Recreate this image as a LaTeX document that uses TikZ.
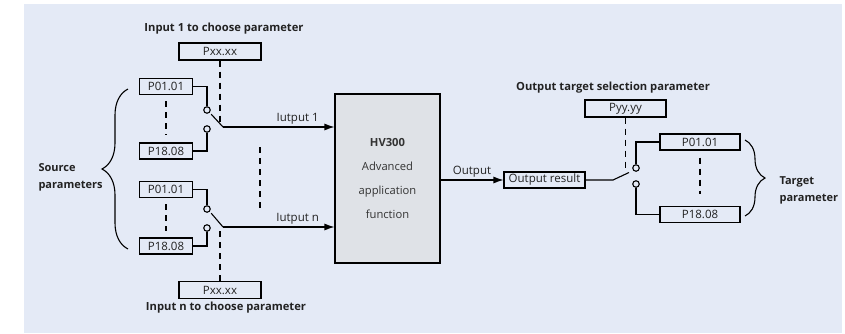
\documentclass[tikz,border=0pt]{standalone}
\usepackage{fontspec}
\setmainfont{Open Sans}
\usetikzlibrary{arrows.meta,decorations.pathreplacing,calc}
\definecolor{bgblue}{HTML}{E4EAF6}
\definecolor{boxgray}{HTML}{DFE2E7}
\definecolor{inktext}{HTML}{222222}

\tikzset{
  wire/.style={line width=1.1pt,draw=black},
  dashwire/.style={line width=1.2pt,dash pattern=on 6pt off 5pt},
  parbox/.style={draw,line width=1.1pt,minimum width=53,minimum height=16,inner sep=0pt,
    font=\fontsize{11.5}{12}\selectfont,text=inktext},
  selbox/.style={parbox,minimum width=82,minimum height=17},
  tgtbox/.style={parbox,minimum width=80},
  contact/.style={circle,draw,line width=1.1pt,fill=bgblue,minimum size=6.5pt,inner sep=0pt},
  caption/.style={font=\fontsize{11.2}{13}\selectfont\bfseries,text=inktext},
  grouplabel/.style={font=\fontsize{11}{17}\selectfont\bfseries,align=left,anchor=west,text=inktext},
  flowlabel/.style={font=\fontsize{11.5}{13}\selectfont,text=inktext,inner sep=2pt},
  arrowline/.style={wire,-{Latex[length=10pt,width=7pt]}},
  curly/.style={wire,decorate,decoration={brace,amplitude=#1}}
}

\begin{document}
\begin{tikzpicture}[x=1pt,y=-1pt]
\useasboundingbox (0,0) rectangle (845,333);
\fill[bgblue] (24,4) rectangle (842,333);

% input side
\node[caption] (in1cap) at (224,29) {Input 1 to choose parameter};
\node[selbox] (sel1) at (220,51.5) {Pxx.xx};
\node[parbox] (a1) at (166,86.5) {P01.01};
\node[parbox] (b1) at (166,151) {P18.08};
\node[parbox] (a2) at (166,189.5) {P01.01};
\node[parbox] (b2) at (166,246) {P18.08};
\node[selbox] (seln) at (220,290) {Pxx.xx};
\node[caption] (inncap) at (226,308) {Input n to choose parameter};
\node[grouplabel] (srclabel) at (35,177.5) {Source\\parameters};

\node[contact] (c1a) at (207,110) {};
\node[contact] (c1b) at (207,129) {};
\node[contact] (c2a) at (207,209) {};
\node[contact] (c2b) at (207,228) {};
\coordinate (k1) at (223,127);
\coordinate (k2) at (223,227);

% function block
\node[draw,line width=1.1pt,fill=boxgray,minimum width=105,minimum height=169,
  align=center,font=\fontsize{11.2}{24}\selectfont,text=black!80] (hv) at (387.5,178.5)
  {\textbf{HV300}\\Advanced\\application\\function};

% output side
\node[parbox,minimum width=81] (res) at (544.5,180) {Output result};
\node[caption] (outcap) at (613,88) {Output target selection parameter};
\node[selbox,minimum width=81] (sely) at (625.5,108.5) {Pyy.yy};
\node[contact] (d1) at (636,168) {};
\node[contact] (d2) at (636,184) {};
\coordinate (k3) at (613,180);
\node[tgtbox] (t1) at (700,142) {P01.01};
\node[tgtbox] (t2) at (700,214.5) {P18.08};
\node[grouplabel] (tgtlabel) at (776,190) {Target\\parameter};

% wiring, input 1
\draw[wire] (a1.east) -| (c1a.north);
\draw[wire] (b1.east) -| (c1b.south);
\draw[wire] (c1a.south east) ++(1.5,1.5) -- (k1);
\draw[arrowline] (k1) -- (k1 -| hv.west) node[flowlabel,pos=0.67,above] {Iutput 1};
\draw[dashwire] (a1.south) ++(0,6) -- ($(b1.north)+(0,-7)$);
\draw[dashwire] (sel1.south) -- ++(0,65);

% wiring, input n
\draw[wire] (a2.east) -| (c2a.north);
\draw[wire] (b2.east) -| (c2b.south);
\draw[wire] (c2a.south east) ++(1.5,1.5) -- (k2);
\draw[arrowline] (k2) -- (k2 -| hv.west) node[flowlabel,pos=0.67,above] {Iutput n};
\draw[dashwire] (a2.south) ++(0,6) -- ($(b2.north)+(0,-6)$);
\draw[dashwire] (seln.north) -- ++(0,-54);
\draw[dashwire] (260,147) -- (260,212);

% output wiring
\draw[arrowline] (hv.east |- res) -- (res.west) node[flowlabel,midway,above] {Output};
\draw[wire] (res.east) -- (k3) -- (629,172.5);
\draw[wire] (d1.north) |- (t1.west);
\draw[wire] (d2.south) |- (t2.west);
\draw[dashwire] (sely.south) -- ++(0,53);
\draw[dashwire] (t1.south) ++(0,7) -- ($(t2.north)+(0,-12)$);

% braces
\draw[curly=26pt] (128,249) -- (128,89);
\draw[curly=20pt] (745,140) -- (745,216);
\end{tikzpicture}
\end{document}
